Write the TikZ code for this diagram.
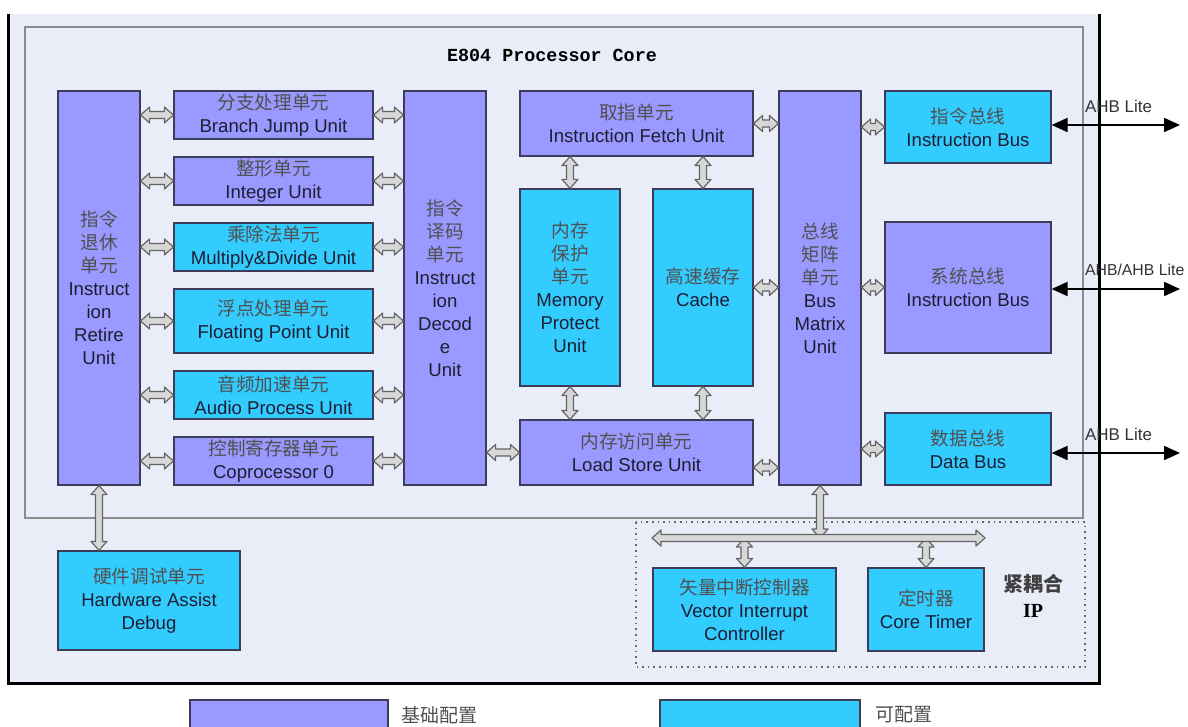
\documentclass[tikz,border=0pt]{standalone}
\usepackage{fontspec}
\setmainfont{Liberation Sans}
\setmonofont{Liberation Mono}
\newfontfamily\cjk{Noto Sans CJK SC}
\newfontfamily\tms{Liberation Serif}
\usetikzlibrary{calc,arrows.meta}
\definecolor{basepurple}{RGB}{153,153,255}
\definecolor{optcyan}{RGB}{51,204,255}
\definecolor{boxedge}{RGB}{60,60,90}
\definecolor{panel}{RGB}{233,237,247}
\definecolor{coreedge}{RGB}{140,140,140}
\definecolor{arrfill}{RGB}{215,215,215}
\definecolor{arredge}{RGB}{100,100,100}
\definecolor{labtext}{RGB}{30,30,50}
\definecolor{zhtext}{RGB}{80,80,80}
\newcommand{\zh}[1]{{\cjk\color{zhtext}#1}}

\tikzset{
  unit/.style={draw=boxedge, line width=0.6pt, inner sep=0pt, align=center,
    text=labtext, font=\fontsize{9.3}{11.5}\selectfont},
  basic/.style={unit, fill=basepurple},
  config/.style={unit, fill=optcyan},
  fatarr/.style={draw=arredge, fill=arrfill, line width=0.6pt, line join=round},
  ahb/.style={line width=1pt, {Triangle[length=8pt,width=7pt]}-{Triangle[length=8pt,width=7pt]}},
}

\begin{document}
\begin{tikzpicture}[x=0.5pt,y=-0.5pt]

\def\harr#1#2{\draw[fatarr] (#1) -- ($(#1)+(9,-8)$) -- ($(#1)+(9,-3.5)$) -- ($(#2)+(-9,-3.5)$) -- ($(#2)+(-9,-8)$) -- (#2) -- ($(#2)+(-9,8)$) -- ($(#2)+(-9,3.5)$) -- ($(#1)+(9,3.5)$) -- ($(#1)+(9,8)$) -- cycle;}
\def\varr#1#2{\draw[fatarr] (#1) -- ($(#1)+(8,9)$) -- ($(#1)+(3.5,9)$) -- ($(#2)+(3.5,-9)$) -- ($(#2)+(8,-9)$) -- (#2) -- ($(#2)+(-8,-9)$) -- ($(#2)+(-3.5,-9)$) -- ($(#1)+(-3.5,9)$) -- ($(#1)+(-8,9)$) -- cycle;}

	\useasboundingbox (0,0) rectangle (1188,727);
	\fill[panel] (8,14) rectangle (1099,683);
	\draw[line width=1.5pt] (8,14) -- (8,683) -- (1099,683) -- (1099,14);
	\draw[coreedge, line width=1pt] (25,27) rectangle (1083,518);
	\node[font=\ttfamily\bfseries\fontsize{9.2}{11}\selectfont] (title) at (552,55) {E804 Processor Core};

	\node[basic, minimum width=41pt, minimum height=197pt] (retire) at (99,288) {\zh{指令}\\\zh{退休}\\\zh{单元}\\Instruct\\ion\\Retire\\Unit};
	\node[basic, minimum width=99.5pt, minimum height=24pt] (bju) at (273.5,115) {\zh{分支处理单元}\\Branch Jump Unit};
	\node[basic, minimum width=99.5pt, minimum height=24pt] (intu) at (273.5,181) {\zh{整形单元}\\Integer Unit};
	\node[config, minimum width=99.5pt, minimum height=24pt] (mdu) at (273.5,247) {\zh{乘除法单元}\\Multiply\&Divide Unit};
	\node[config, minimum width=99.5pt, minimum height=32pt] (fpu) at (273.5,321) {\zh{浮点处理单元}\\Floating Point Unit};
	\node[config, minimum width=99.5pt, minimum height=24pt] (apu) at (273.5,395) {\zh{音频加速单元}\\Audio Process Unit};
	\node[basic, minimum width=99.5pt, minimum height=24pt] (cp0) at (273.5,461) {\zh{控制寄存器单元}\\Coprocessor 0};
	\node[basic, minimum width=41pt, minimum height=197pt] (decode) at (445,288) {\zh{指令}\\\zh{译码}\\\zh{单元}\\Instruct\\ion\\Decod\\e\\Unit};
	\node[basic, minimum width=116.5pt, minimum height=32.5pt] (fetch) at (636.5,123.5) {\zh{取指单元}\\Instruction Fetch Unit};
	\node[config, minimum width=50pt, minimum height=98.5pt] (mpu) at (570,287.5) {\zh{内存}\\\zh{保护}\\\zh{单元}\\Memory\\Protect\\Unit};
	\node[config, minimum width=50pt, minimum height=98.5pt] (cache) at (703,287.5) {\zh{高速缓存}\\Cache};
	\node[basic, minimum width=116.5pt, minimum height=32.5pt] (lsu) at (636.5,452.5) {\zh{内存访问单元}\\Load Store Unit};
	\node[basic, minimum width=41pt, minimum height=197pt] (bm) at (820,288) {\zh{总线}\\\zh{矩阵}\\\zh{单元}\\Bus\\Matrix\\Unit};
	\node[config, minimum width=83pt, minimum height=36pt] (ibus) at (968,127) {\zh{指令总线}\\Instruction Bus};
	\node[basic, minimum width=83pt, minimum height=65.5pt] (sbus) at (968,287.5) {\zh{系统总线}\\Instruction Bus};
	\node[config, minimum width=83pt, minimum height=36pt] (dbus) at (968,449) {\zh{数据总线}\\Data Bus};
	\node[config, minimum width=91pt, minimum height=49.5pt] (had) at (149,600.5) {\zh{硬件调试单元}\\Hardware Assist\\Debug};

	% tightly coupled IP
	\draw[dotted, line width=0.8pt, black!60] (636,522) rectangle (1085,667);
	\node[config, minimum width=91.5pt, minimum height=41.5pt] (vic) at (744.5,609.5) {\zh{矢量中断控制器}\\Vector Interrupt\\Controller};
	\node[config, minimum width=58pt, minimum height=41.5pt] (timer) at (926,609.5) {\zh{定时器}\\Core Timer};
	\node[align=center, font=\fontsize{10}{13}\selectfont] (tcip) at (1033,596) {{\cjk\bfseries\color{black!75}紧耦合}\\{\tms\bfseries IP}};
	\coordinate (busL) at (652,538);
	\coordinate (busR) at (985,538);

	% unit links
	\harr{retire.east |- bju.west}{bju.west}
	\harr{retire.east |- intu.west}{intu.west}
	\harr{retire.east |- mdu.west}{mdu.west}
	\harr{retire.east |- fpu.west}{fpu.west}
	\harr{retire.east |- apu.west}{apu.west}
	\harr{retire.east |- cp0.west}{cp0.west}
	\harr{bju.east}{bju.east -| decode.west}
	\harr{intu.east}{intu.east -| decode.west}
	\harr{mdu.east}{mdu.east -| decode.west}
	\harr{fpu.east}{fpu.east -| decode.west}
	\harr{apu.east}{apu.east -| decode.west}
	\harr{cp0.east}{cp0.east -| decode.west}
	\harr{decode.east |- lsu.west}{lsu.west}
	\harr{fetch.east}{fetch.east -| bm.west}
	\harr{cache.east}{cache.east -| bm.west}
	\coordinate (lsbm) at ($(lsu.east)+(0,15)$);
	\harr{lsbm}{lsbm -| bm.west}
	\harr{bm.east |- ibus.west}{ibus.west}
	\harr{bm.east |- sbus.west}{sbus.west}
	\harr{bm.east |- dbus.west}{dbus.west}
	\varr{fetch.south -| mpu.north}{mpu.north}
	\varr{fetch.south -| cache.north}{cache.north}
	\varr{mpu.south}{mpu.south |- lsu.north}
	\varr{cache.south}{cache.south |- lsu.north}
	\varr{retire.south}{retire.south |- had.north}
	\varr{bm.south}{bm.south |- busL}
	\varr{vic.north |- busL}{vic.north}
	\varr{timer.north |- busL}{timer.north}
	\harr{busL}{busR}

	% AHB ports
	\coordinate (portI) at (1180,125);
	\coordinate (portS) at (1180,289);
	\coordinate (portD) at (1180,453);
	\draw[ahb] (ibus.east |- portI) -- (portI);
	\draw[ahb] (sbus.east |- portS) -- (portS);
	\draw[ahb] (dbus.east |- portD) -- (portD);
	\node[anchor=west, font=\fontsize{8.5}{10}\selectfont, text=black!80] (ahbI) at (1078,106) {AHB Lite};
	\node[anchor=west, font=\fontsize{7.9}{10}\selectfont, text=black!80] (ahbS) at (1078,270) {AHB/AHB Lite};
	\node[anchor=west, font=\fontsize{8.5}{10}\selectfont, text=black!80] (ahbD) at (1078,434) {AHB Lite};

	% legend
	\draw[boxedge, fill=basepurple, line width=0.6pt] (190,700) rectangle (388,740);
	\draw[boxedge, fill=optcyan, line width=0.6pt] (660,700) rectangle (860,740);
	\node[anchor=west, font=\cjk\fontsize{9.5}{11}\selectfont, text=zhtext] (legB) at (394,715) {基础配置};
	\node[anchor=west, font=\cjk\fontsize{9.5}{11}\selectfont, text=zhtext] (legC) at (868,715) {可配置};

\end{tikzpicture}
\end{document}
